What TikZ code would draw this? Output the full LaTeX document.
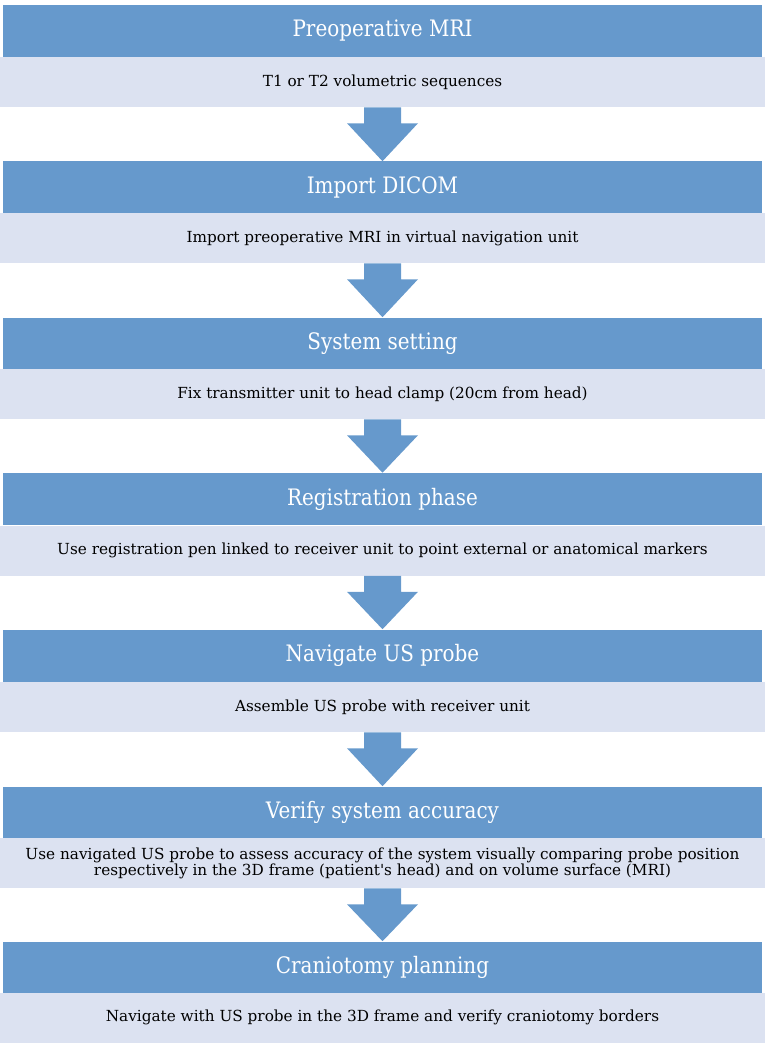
\documentclass[tikz,border=0pt]{standalone}
\usepackage{fontspec}
\setmainfont{DejaVu Serif}
\newfontfamily\hdrfont[FakeStretch=0.88]{DejaVu Serif}
\usetikzlibrary{calc}

\definecolor{hdrblue}{RGB}{102,153,204}
\definecolor{bodylav}{RGB}{220,226,241}

\tikzset{
  hdr/.style={rectangle, fill=hdrblue, inner sep=0pt, minimum width=569.25pt, minimum height=39pt, text=white, font=\hdrfont\fontsize{17}{20}\selectfont},
  bodybox/.style={rectangle, fill=bodylav, inner sep=0pt, minimum width=573.75pt, minimum height=37.5pt, text=black, align=center, font=\fontsize{11.45}{12}\selectfont}
}

% fat down arrow from a body box to the next header
\newcommand{\fatarrow}[2]{%
  \fill[hdrblue] ($(#1.south)+(-18.5,0)$) -- ($(#1.south)+(18.5,0)$) -- ($(#1.south)+(18.5,16)$) -- ($(#1.south)+(35.5,16)$) -- (#2.north) -- ($(#1.south)+(-35.5,16)$) -- ($(#1.south)+(-18.5,16)$) -- cycle;}

\begin{document}
\begin{tikzpicture}[x=0.75pt,y=0.75pt,yscale=-1,xscale=1]
\useasboundingbox (0,0) rectangle (767,1045);

% Step 1
\node [hdr] (h1) at (382.5,31) {Preoperative MRI};
\node [bodybox] (b1) at (382.5,82) {T1 or T2 volumetric sequences};
% Step 2
\node [hdr] (h2) at (382.5,187.5) {Import DICOM};
\node [bodybox] (b2) at (382.5,238) {Import preoperative MRI in virtual navigation unit};
% Step 3
\node [hdr] (h3) at (382.5,343.5) {System setting};
\node [bodybox] (b3) at (382.5,394) {Fix transmitter unit to head clamp (20cm from head)};
% Step 4
\node [hdr] (h4) at (382.5,499) {Registration phase};
\node [bodybox] (b4) at (382.5,550.5) {Use registration pen linked to receiver unit to point external or anatomical markers};
% Step 5
\node [hdr] (h5) at (382.5,655.5) {Navigate US probe};
\node [bodybox] (b5) at (382.5,707) {Assemble US probe with receiver unit};
% Step 6
\node [hdr] (h6) at (382.5,812.5) {Verify system accuracy};
\node [bodybox] (b6) at (382.5,863) {Use navigated US probe to assess accuracy of the system visually comparing probe position\\ respectively in the 3D frame (patient\textquotesingle s head) and on volume surface (MRI)};
% Step 7
\node [hdr] (h7) at (382.5,967.5) {Craniotomy planning};
\node [bodybox] (b7) at (382.5,1017.5) {Navigate with US probe in the 3D frame and verify craniotomy borders};

% Arrows
\fatarrow{b1}{h2}
\fatarrow{b2}{h3}
\fatarrow{b3}{h4}
\fatarrow{b4}{h5}
\fatarrow{b5}{h6}
\fatarrow{b6}{h7}

\end{tikzpicture}
\end{document}
